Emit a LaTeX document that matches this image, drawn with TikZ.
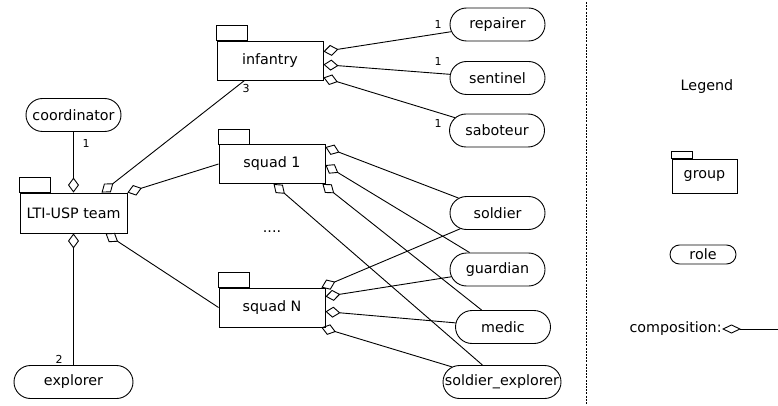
\documentclass[tikz,border=0pt]{standalone}
\usepackage{fontspec}
\setmainfont{DejaVu Sans}
\usetikzlibrary{arrows.meta,shapes.misc,calc}
\begin{document}
\begin{tikzpicture}[x=1pt,y=-1pt,
  every node/.style={font=\fontsize{14.3}{17}\selectfont},
  grp/.style={draw, rectangle, minimum width=106pt, minimum height=39pt, inner sep=0pt},
  role/.style={draw, rounded rectangle, minimum width=99pt, minimum height=33pt, inner sep=2pt},
  mult/.style={font=\fontsize{11}{13}\selectfont, inner sep=0pt},
  comp/.style={-{Diamond[open,length=15pt,width=11pt]}},
  line width=0.9pt]
\useasboundingbox (0,0) rectangle (778,406);

% groups
\node[grp] (inf) at (270,60.5) {infantry};
\node[grp] (sq1) at (272,164) {squad 1};
\node[grp] (sqn) at (272,307.5) {squad N};
\node[grp, minimum width=107pt, minimum height=40pt] (lti) at (73.5,213) {LTI-USP team};
\foreach \n in {inf,sq1,sqn,lti} \draw (\n.north west) rectangle ++(31,-15);

% roles
\node[role] (coord) at (73.5,115) {coordinator};
\node[role, minimum width=123pt] (expl) at (73.5,382) {explorer};
\node[role] (rep) at (497.5,24.5) {repairer};
\node[role] (sent) at (497.5,78) {sentinel};
\node[role] (sab) at (497,130.5) {saboteur};
\node[role] (sold) at (497.5,213) {soldier};
\node[role] (guard) at (497.5,269.5) {guardian};
\node[role] (med) at (503,327) {medic};
\node[role, minimum width=122pt] (sexp) at (502,382) {soldier\_explorer};

% attachment points
\coordinate (i1) at ($(inf.north east)+(0,11)$);
\coordinate (i2) at ($(inf.north east)+(0,24)$);
\coordinate (i3) at ($(inf.north east)+(0,37)$);
\coordinate (s1a) at ($(sq1.north east)+(0,3)$);
\coordinate (s1b) at ($(sq1.north east)+(0,21)$);
\coordinate (s1c) at ($(sq1.south east)+(-3,0)$);
\coordinate (s1d) at ($(sq1.south west)+(55,0)$);
\coordinate (sna) at ($(sqn.north east)+(-4,0)$);
\coordinate (snb) at ($(sqn.north east)+(0,9)$);
\coordinate (snc) at ($(sqn.north east)+(0,24)$);
\coordinate (snd) at ($(sqn.south east)+(-4,0)$);
\coordinate (lt1) at ($(lti.north west)+(82,0)$);
\coordinate (lb1) at ($(lti.south west)+(86,0)$);

% connectors
\draw[comp] (coord.south) -- (lti.north);
\draw[comp] (expl.north) -- (lti.south);
\draw[comp] (inf) -- (lt1);
\draw[comp] (sq1.west) -- (lti.north east);
\draw[comp] (sqn.west) -- (lb1);
\draw[comp] (rep) -- (i1);
\draw[comp] (sent) -- (i2);
\draw[comp] (sab) -- (i3);
\draw[comp] (sold) -- (s1a);
\draw[comp] (guard) -- (s1b);
\draw[comp] (med) -- (s1c);
\draw[comp] (sexp) -- (s1d);
\draw[comp] (sold) -- (sna);
\draw[comp] (guard) -- (snb);
\draw[comp] (med) -- (snc);
\draw[comp] (sexp) -- (snd);

% multiplicities
\node[mult] at (86,143) {1};
\node[mult] at (59,359) {2};
\node[mult] at (246,88) {3};
\node[mult] at (438,24) {1};
\node[mult] at (438,61) {1};
\node[mult] at (438,123) {1};
\node at (272,232) {....};

% legend
\draw[dash pattern=on 2pt off 1.2pt, line width=0.8pt] (586,2) -- (586,404);
\node at (707,87) {Legend};
\node[grp, minimum width=65pt, minimum height=34pt] (lg) at (704.5,176) {group};
\draw (lg.north west) rectangle ++(21,-7);
\node[role, minimum width=68pt, minimum height=19pt, inner sep=1pt] (lr) at (703,254.5) {role};
\node[inner sep=0pt, anchor=east] (lc) at (722,329) {composition:};
\coordinate (lce) at (778,329);
\draw[-{Diamond[open,length=19pt,width=9pt]}] (lce) -- (lc.east);
\end{tikzpicture}
\end{document}
